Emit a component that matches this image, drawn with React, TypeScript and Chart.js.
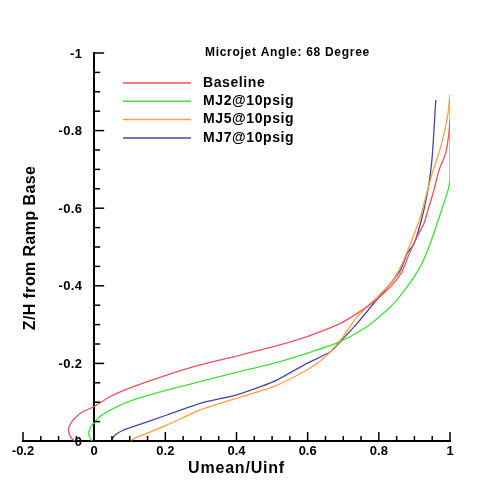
import React, { useEffect, useRef } from 'react';
import { Chart, registerables } from 'chart.js';

Chart.register(...registerables);

const chartTitle = 'Microjet Angle: 68 Degree';
const xAxisTitle = 'Umean/Uinf';
const yAxisTitle = 'Z/H from Ramp Base';

const seriesLabels = ['Baseline', 'MJ2@10psig', 'MJ5@10psig', 'MJ7@10psig'];
const seriesColors = ['#f2505e', '#3ee03e', '#ffa040', '#4848a0'];

const baselineU = [-0.055, -0.066, -0.072, -0.068, -0.055, -0.035, 0, 0.044, 0.11, 0.204, 0.298, 0.40, 0.504, 0.598, 0.692, 0.739, 0.786, 0.833, 0.865, 0.882, 0.903, 0.927, 0.941, 0.955, 0.969, 0.988, 0.997, 1.0];
const baselineZ = [0, -0.01, -0.026, -0.042, -0.058, -0.074, -0.089, -0.114, -0.14, -0.17, -0.196, -0.219, -0.243, -0.269, -0.303, -0.329, -0.359, -0.398, -0.436, -0.475, -0.518, -0.561, -0.604, -0.647, -0.698, -0.742, -0.793, -0.827];

const mj2U = [-0.006, -0.013, -0.015, -0.01, 0, 0.016, 0.063, 0.11, 0.204, 0.298, 0.40, 0.504, 0.598, 0.692, 0.767, 0.833, 0.88, 0.917, 0.943, 0.964, 0.983, 0.997, 1.0, 1.0];
const mj2Z = [0, -0.01, -0.022, -0.036, -0.047, -0.063, -0.088, -0.106, -0.131, -0.153, -0.177, -0.2, -0.226, -0.256, -0.295, -0.346, -0.398, -0.45, -0.505, -0.561, -0.613, -0.655, -0.681, -0.879];

const mj5U = [0.103, 0.129, 0.204, 0.298, 0.40, 0.504, 0.598, 0.645, 0.692, 0.739, 0.786, 0.833, 0.862, 0.889, 0.917, 0.932, 0.950, 0.974, 0.993, 1.0];
const mj5Z = [-0.002, -0.013, -0.041, -0.08, -0.11, -0.14, -0.183, -0.213, -0.26, -0.32, -0.363, -0.406, -0.45, -0.509, -0.578, -0.63, -0.69, -0.758, -0.836, -0.892];

const mj7U = [0.049, 0.058, 0.08, 0.11, 0.204, 0.298, 0.40, 0.504, 0.598, 0.664, 0.692, 0.739, 0.786, 0.833, 0.861, 0.88, 0.899, 0.922, 0.941, 0.950, 0.955, 0.960];
const mj7Z = [-0.002, -0.015, -0.027, -0.037, -0.067, -0.097, -0.119, -0.153, -0.2, -0.23, -0.256, -0.303, -0.355, -0.406, -0.441, -0.484, -0.509, -0.578, -0.664, -0.733, -0.802, -0.879];

const seriesU = [baselineU, mj2U, mj5U, mj7U];
const seriesZ = [baselineZ, mj2Z, mj5Z, mj7Z];

const FONT = '"Liberation Sans", Arial, sans-serif';

const fmt = (v: number) => String(Math.round(Number(v) * 10) / 10);

const setSpacing = (ctx: any, s: string) => {
  try { ctx.letterSpacing = s; } catch (e) { /* ignore */ }
};

const decoPlugin = {
  id: 'deco',
  afterDraw(chart: any) {
    const { ctx, chartArea } = chart;
    const xs = chart.scales.x;
    const ys = chart.scales.y;
    ctx.save();
    ctx.strokeStyle = '#000';
    ctx.lineWidth = 1.5;
    const yBase = ys.getPixelForValue(0);
    const xBase = xs.getPixelForValue(0);
    // x ticks (inward)
    const xt = xs.ticks.map((t: any) => t.value);
    for (let i = 0; i < xt.length; i++) {
      const px = xs.getPixelForValue(xt[i]);
      ctx.beginPath();
      ctx.moveTo(px, yBase);
      ctx.lineTo(px, yBase - 9);
      ctx.stroke();
      if (i < xt.length - 1) {
        for (let k = 1; k < 4; k++) {
          const v = xt[i] + ((xt[i + 1] - xt[i]) * k) / 4;
          const mp = xs.getPixelForValue(v);
          ctx.beginPath();
          ctx.moveTo(mp, yBase);
          ctx.lineTo(mp, yBase - 5);
          ctx.stroke();
        }
      }
    }
    // y ticks (inward) and labels
    const yt = ys.ticks.map((t: any) => t.value);
    ctx.fillStyle = '#000';
    ctx.font = `bold 13px ${FONT}`;
    ctx.textAlign = 'right';
    ctx.textBaseline = 'middle';
    setSpacing(ctx, '0.3px');
    for (let i = 0; i < yt.length; i++) {
      const py = ys.getPixelForValue(yt[i]);
      ctx.beginPath();
      ctx.moveTo(xBase, py);
      ctx.lineTo(xBase + 10, py);
      ctx.stroke();
      ctx.fillText(fmt(yt[i]), xBase - 12, py + 1);
      if (i < yt.length - 1) {
        for (let k = 1; k < 4; k++) {
          const v = yt[i] + ((yt[i + 1] - yt[i]) * k) / 4;
          const mp = ys.getPixelForValue(v);
          ctx.beginPath();
          ctx.moveTo(xBase, mp);
          ctx.lineTo(xBase + 6, mp);
          ctx.stroke();
        }
      }
    }
    // title
    ctx.textAlign = 'left';
    setSpacing(ctx, '0.7px');
    ctx.font = `bold 12px ${FONT}`;
    ctx.fillText(chartTitle, chartArea.left + 182, chartArea.top);
    // legend
    ctx.font = `bold 14px ${FONT}`;
    setSpacing(ctx, '0.6px');
    chart.data.datasets.forEach((ds: any, i: number) => {
      const y = chartArea.top + 30 + i * 18.3;
      ctx.strokeStyle = ds.borderColor;
      ctx.lineWidth = 1.5;
      ctx.beginPath();
      ctx.moveTo(chartArea.left + 100, y);
      ctx.lineTo(chartArea.left + 168, y);
      ctx.stroke();
      ctx.fillText(ds.label, chartArea.left + 180, y);
    });
    // axis titles
    ctx.font = `bold 16px ${FONT}`;
    setSpacing(ctx, '0.8px');
    ctx.textAlign = 'center';
    ctx.fillText(xAxisTitle, (chartArea.left + chartArea.right) / 2, chartArea.bottom + 28);
    ctx.save();
    ctx.translate(chartArea.left + 8, (chartArea.top + chartArea.bottom) / 2 + 1);
    ctx.rotate(-Math.PI / 2);
    setSpacing(ctx, '0.4px');
    ctx.fillText(yAxisTitle, 0, 0);
    ctx.restore();
    ctx.restore();
  },
};

export default function App() {
  const ref = useRef<HTMLCanvasElement>(null);
  useEffect(() => {
    if (!ref.current) return;
    const datasets = seriesLabels.map((label, i) => ({
      label,
      data: seriesU[i].map((u, j) => ({ x: u, y: seriesZ[i][j] })),
      borderColor: seriesColors[i],
      backgroundColor: seriesColors[i],
      borderWidth: 1.3,
      pointRadius: 0,
      showLine: true,
      tension: 0.2,
      fill: false,
    }));
    const chart = new Chart(ref.current, {
      type: 'scatter',
      data: { datasets },
      options: {
        animation: false,
        responsive: false,
        maintainAspectRatio: false,
        layout: { padding: { left: 23, right: 47, top: 53, bottom: 0 } },
        plugins: { legend: { display: false }, tooltip: { enabled: false }, title: { display: false } },
        scales: {
          x: {
            type: 'linear',
            position: 'bottom',
            min: -0.2,
            max: 1,
            ticks: {
              stepSize: 0.2,
              color: '#000',
              padding: 3,
              font: { family: FONT, size: 13, weight: 'bold' },
              callback: (v: any) => fmt(v),
              maxRotation: 0,
            },
            grid: { display: false, drawTicks: false },
            border: { display: true, color: '#000', width: 2 },
            afterFit: (s: any) => { s.height = 46; },
          },
          y: {
            type: 'linear',
            position: { x: 0 } as any,
            min: -1,
            max: 0,
            reverse: true,
            ticks: {
              stepSize: 0.2,
              display: false,
            },
            grid: { display: false, drawTicks: false },
            border: { display: true, color: '#000', width: 2 },
          },
        },
      },
      plugins: [decoPlugin],
    });
    return () => chart.destroy();
  }, []);
  return (
    <div style={{ position: 'absolute', left: 0, top: 0, width: 497, height: 487, background: '#fff' }}>
      <canvas ref={ref} width={497} height={487} style={{ display: 'block' }} />
    </div>
  );
}
